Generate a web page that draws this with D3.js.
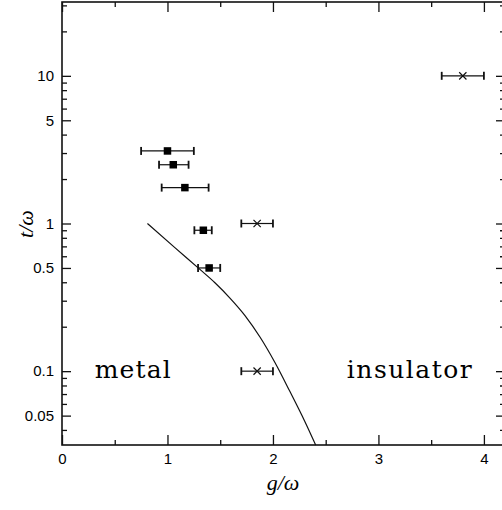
<!DOCTYPE html>
<html>
<head>
<meta charset="utf-8">
<script src="https://cdn.jsdelivr.net/npm/d3@7"></script>
<style>
  html, body { margin: 0; padding: 0; background: #fff; }
  svg { display: block; }
  .tick text { font-family: "Liberation Sans", Arial, sans-serif; font-size: 15px; fill: #000; }
</style>
</head>
<body>
<svg id="chart" width="502" height="510"></svg>
<script>
// Phase diagram: metal / insulator boundary in the (g/ω, t/ω) plane

// filled squares with horizontal error bars
const squareG  = [1.00, 1.055, 1.165, 1.34, 1.395];
const squareT  = [3.1, 2.5, 1.75, 0.9, 0.5];
const squareLo = [0.75, 0.92, 0.945, 1.255, 1.29];
const squareHi = [1.25, 1.20, 1.39, 1.42, 1.50];

// crosses with horizontal error bars
const crossG  = [3.8, 1.85, 1.85];
const crossT  = [10, 1, 0.1];
const crossLo = [3.6, 1.70, 1.70];
const crossHi = [4.0, 2.0, 2.0];

// phase boundary curve
const curveG = [0.81, 1.07, 1.31, 1.45, 1.59, 1.735, 1.88, 2.02, 2.16, 2.30, 2.405];
const curveT = [1.0, 0.686, 0.487, 0.397, 0.314, 0.238, 0.169, 0.114, 0.073, 0.046, 0.0316];

// axis ticks
const xMajorTicks = [0, 1, 2, 3, 4];
const xMinorTicks = [0.5, 1.5, 2.5, 3.5];
const yLabelTicks = [0.05, 0.1, 0.5, 1, 5, 10];
const yLabelText  = ["0.05", "0.1", "0.5", "1", "5", "10"];
const yMinorTicks = [0.04, 0.06, 0.07, 0.08, 0.09, 0.2, 0.3, 0.4, 0.6, 0.7, 0.8, 0.9,
                     2, 3, 4, 6, 7, 8, 9, 20, 30];

const regionLabels = ["metal", "insulator"];
const regionG = [0.31, 2.70];
const regionT = [0.1, 0.1];

const svg = d3.select("#chart");
const plotL = 62, plotR = 505, plotT = 2, plotB = 445;

const x = d3.scaleLinear().domain([0, 4.2]).range([plotL, plotR]);
const y = d3.scaleLog().domain([Math.pow(10, -1.5), Math.pow(10, 1.5)]).range([plotB, plotT]);

const ink = "#111";

// frame
svg.append("rect")
  .attr("x", plotL).attr("y", plotT)
  .attr("width", plotR - plotL).attr("height", plotB - plotT)
  .attr("fill", "none").attr("stroke", ink).attr("stroke-width", 1.6);

function styleAxis(g) {
  g.select(".domain").remove();
  g.selectAll(".tick line").attr("stroke", ink).attr("stroke-width", 1.3);
}

// bottom axis (ticks inward) with labels
svg.append("g").attr("transform", `translate(0,${plotB})`)
  .call(d3.axisBottom(x).tickValues(xMajorTicks).tickFormat(d3.format("d"))
    .tickSizeInner(-10).tickSizeOuter(0).tickPadding(8))
  .call(styleAxis);
svg.append("g").attr("transform", `translate(0,${plotB})`)
  .call(d3.axisBottom(x).tickValues(xMinorTicks).tickFormat("")
    .tickSizeInner(-5).tickSizeOuter(0))
  .call(styleAxis);

// top axis mirrored
svg.append("g").attr("transform", `translate(0,${plotT})`)
  .call(d3.axisTop(x).tickValues(xMajorTicks).tickFormat("")
    .tickSizeInner(-10).tickSizeOuter(0))
  .call(styleAxis);
svg.append("g").attr("transform", `translate(0,${plotT})`)
  .call(d3.axisTop(x).tickValues(xMinorTicks).tickFormat("")
    .tickSizeInner(-5).tickSizeOuter(0))
  .call(styleAxis);

// left axis (log) with labels
svg.append("g").attr("transform", `translate(${plotL},0)`)
  .call(d3.axisLeft(y).tickValues(yLabelTicks)
    .tickFormat((d, i) => yLabelText[i])
    .tickSizeInner(-9).tickSizeOuter(0).tickPadding(8))
  .call(styleAxis);
svg.append("g").attr("transform", `translate(${plotL},0)`)
  .call(d3.axisLeft(y).tickValues(yMinorTicks).tickFormat("")
    .tickSizeInner(-5).tickSizeOuter(0))
  .call(styleAxis);

// right axis mirrored
svg.append("g").attr("transform", `translate(${plotR},0)`)
  .call(d3.axisRight(y).tickValues(yLabelTicks).tickFormat("")
    .tickSizeInner(-9).tickSizeOuter(0))
  .call(styleAxis);
svg.append("g").attr("transform", `translate(${plotR},0)`)
  .call(d3.axisRight(y).tickValues(yMinorTicks).tickFormat("")
    .tickSizeInner(-5).tickSizeOuter(0))
  .call(styleAxis);

// phase boundary
const boundary = curveG.map((g, i) => [g, curveT[i]]);
svg.append("path")
  .datum(boundary)
  .attr("fill", "none").attr("stroke", ink).attr("stroke-width", 1.2)
  .attr("d", d3.line().x(d => x(d[0])).y(d => y(d[1])).curve(d3.curveMonotoneX));

// error bars
function errorBars(gs, ts, lo, hi) {
  const data = gs.map((g, i) => ({ g, t: ts[i], lo: lo[i], hi: hi[i] }));
  const grp = svg.append("g");
  grp.selectAll("line.bar").data(data).join("line").attr("class", "bar")
    .attr("x1", d => x(d.lo)).attr("x2", d => x(d.hi))
    .attr("y1", d => y(d.t)).attr("y2", d => y(d.t))
    .attr("stroke", ink).attr("stroke-width", 1.2);
  ["lo", "hi"].forEach(k => {
    grp.selectAll("line.cap-" + k).data(data).join("line").attr("class", "cap-" + k)
      .attr("x1", d => x(d[k])).attr("x2", d => x(d[k]))
      .attr("y1", d => y(d.t) - 4).attr("y2", d => y(d.t) + 4)
      .attr("stroke", ink).attr("stroke-width", 1.8);
  });
  return data;
}

const sq = errorBars(squareG, squareT, squareLo, squareHi);
svg.append("g").selectAll("rect").data(sq).join("rect")
  .attr("x", d => x(d.g) - 3.75).attr("y", d => y(d.t) - 3.75)
  .attr("width", 7.5).attr("height", 7.5).attr("fill", "#000");

const cr = errorBars(crossG, crossT, crossLo, crossHi);
const crossMark = d3.symbol().type(d3.symbolTimes).size(36);
svg.append("g").selectAll("path").data(cr).join("path")
  .attr("transform", d => `translate(${x(d.g)},${y(d.t)})`)
  .attr("d", crossMark).attr("fill", "none")
  .attr("stroke", ink).attr("stroke-width", 1.2);

// region labels
const lblWidth = [76, 125];
svg.append("g").selectAll("text").data(regionLabels).join("text")
  .attr("x", (d, i) => x(regionG[i]))
  .attr("y", (d, i) => y(regionT[i]) + 6.5)
  .attr("textLength", (d, i) => lblWidth[i])
  .attr("lengthAdjust", "spacing")
  .attr("font-family", "'DejaVu Serif', 'Liberation Serif', serif")
  .attr("font-size", 25)
  .attr("fill", "#000")
  .text(d => d);

// axis titles
svg.append("text")
  .attr("x", 283).attr("y", 490)
  .attr("text-anchor", "middle")
  .attr("font-family", "'Liberation Serif', 'DejaVu Serif', serif")
  .attr("font-style", "italic")
  .attr("font-size", 22)
  .text("g/ω");

svg.append("text")
  .attr("transform", "translate(33,224) rotate(-90)")
  .attr("text-anchor", "middle")
  .attr("font-family", "'Liberation Serif', 'DejaVu Serif', serif")
  .attr("font-style", "italic")
  .attr("font-size", 22)
  .text("t/ω");
</script>
</body>
</html>
